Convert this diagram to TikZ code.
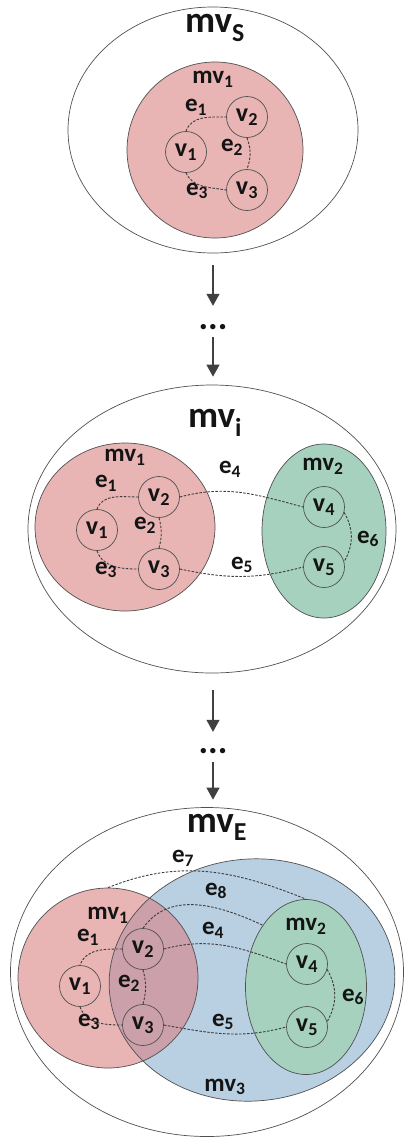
\documentclass[tikz,border=0pt]{standalone}
\usepackage{fontspec}
\setmainfont{Carlito}
\usetikzlibrary{shapes.geometric,arrows.meta}
\definecolor{pinkC}{RGB}{232,180,180}
\definecolor{greenC}{RGB}{165,209,190}
\definecolor{blueC}{RGB}{185,207,226}
\definecolor{overC}{RGB}{203,160,170}
\definecolor{lineC}{RGB}{80,80,80}
\definecolor{edgeC}{RGB}{60,60,60}
\definecolor{txtC}{RGB}{20,20,20}
\newcommand\bigfs{\fontsize{37}{40}\selectfont}
\newcommand\smfs{\fontsize{25}{27}\selectfont}
\newcommand\vfs{\fontsize{26}{28}\selectfont}
\begin{document}
\begin{tikzpicture}[x=1pt,y=-1pt,
  every node/.style={font=\bfseries, text=txtC},
  outerE/.style={ellipse, draw=lineC, line width=0.7pt, inner sep=0},
  region/.style={ellipse, draw=lineC, line width=0.7pt, inner sep=0},
  vert/.style={circle, draw=lineC, line width=0.7pt, minimum size=41pt, inner sep=0, font=\bfseries\vfs},
  lab/.style={inner sep=0, font=\bfseries\smfs},
  biglab/.style={inner sep=0, font=\bfseries\bigfs},
  dedge/.style={draw=edgeC, line width=0.9pt, dash pattern=on 2.5pt off 1.5pt},
  flow/.style={draw=black!75, line width=1.2pt, -{Triangle[length=12pt,width=13pt]}},
  dotsnode/.style={minimum height=20pt, inner sep=0, font=\bfseries\fontsize{36}{38}\selectfont}
]
\useasboundingbox (0,0) rectangle (405,1138);

% ---------- top: mv_S ----------
\node[outerE, minimum width=290pt, minimum height=246pt] (a-out) at (213,130) {};
\node[region, fill=pinkC, minimum size=176pt] (a-mv1) at (215,150) {};
\node[biglab] (a-lab) at (215,28) {mv\textsubscript{S}};
\node[lab] (a-mv1lab) at (213,79) {mv\textsubscript{1}};
\node[vert] (a-v1) at (186,152) {v\textsubscript{1}};
\node[vert] (a-v2) at (247,117) {v\textsubscript{2}};
\node[vert] (a-v3) at (247,190) {v\textsubscript{3}};
\draw[dedge] (a-v1.north) to[out=70,in=180] (a-v2.west);
\draw[dedge] (a-v2.south) to[out=-70,in=70] (a-v3.north);
\draw[dedge] (a-v1.south) to[out=-65,in=170] (a-v3.west);
\node[lab] (a-e1) at (196,107) {e\textsubscript{1}};
\node[lab] (a-e2) at (232,147) {e\textsubscript{2}};
\node[lab] (a-e3) at (197,191) {e\textsubscript{3}};

% ---------- middle: mv_i ----------
\node[outerE, minimum width=368pt, minimum height=288pt] (b-out) at (212,529) {};
\node[region, fill=pinkC, minimum width=180pt, minimum height=168pt] (b-mv1) at (125,527) {};
\node[region, fill=greenC, minimum width=124pt, minimum height=174pt] (b-mv2) at (324,531) {};
\node[biglab] (b-lab) at (215,423) {mv\textsubscript{i}};
\node[lab] (b-mv1lab) at (125,457) {mv\textsubscript{1}};
\node[lab] (b-mv2lab) at (323,466) {mv\textsubscript{2}};
\node[vert] (b-v1) at (97,530) {v\textsubscript{1}};
\node[vert] (b-v2) at (159,497) {v\textsubscript{2}};
\node[vert] (b-v3) at (159,569) {v\textsubscript{3}};
\node[vert] (b-v4) at (324,507) {v\textsubscript{4}};
\node[vert] (b-v5) at (324,567) {v\textsubscript{5}};
\draw[dedge] (b-v1.north) to[out=70,in=180] (b-v2.west);
\draw[dedge] (b-v2.south) to[out=-75,in=75] (b-v3.north);
\draw[dedge] (b-v1.south) to[out=-70,in=180] (b-v3.west);
\draw[dedge] (b-v2.east) to[out=15,in=165] (b-v4.west);
\draw[dedge] (b-v3.east) to[out=-12,in=-165] (b-v5.west);
\draw[dedge] (b-v4.345) to[out=-60,in=60] (b-v5.15);
\node[lab] (b-e1) at (106,483) {e\textsubscript{1}};
\node[lab] (b-e2) at (145,525) {e\textsubscript{2}};
\node[lab] (b-e3) at (106,570) {e\textsubscript{3}};
\node[lab] (b-e4) at (230,469) {e\textsubscript{4}};
\node[lab] (b-e5) at (242,565) {e\textsubscript{5}};
\node[lab] (b-e6) at (368,539) {e\textsubscript{6}};

% ---------- arrows 1 ----------
\node[dotsnode] (d1) at (213,327) {...};
\draw[flow, shorten <=12pt, shorten >=11pt] (d1.north |- a-out.south) -- (d1.north);
\draw[flow, shorten >=8pt] (d1.south) -- (d1.south |- b-out.north);

% ---------- arrows 2 ----------
\node[dotsnode] (d2) at (213,751) {...};
\draw[flow, shorten <=17pt, shorten >=9pt] (d2.north |- b-out.south) -- (d2.north);

% ---------- bottom: mv_E ----------
\node[outerE, minimum width=393pt, minimum height=329pt] (c-out) at (207,972) {};
\draw[flow, shorten <=1pt, shorten >=7.5pt] (d2.south) -- (d2.south |- c-out.north);
\node[region, draw=none, fill=blueC, rotate=5, minimum width=286pt, minimum height=242pt] (c-mv3) at (252,980) {};
\node[region, draw=none, fill=pinkC, minimum size=180pt] (c-mv1) at (108,978) {};
\begin{scope}
  \clip[rotate around={5:(252,980)}] (252,980) ellipse [x radius=143, y radius=121];
  \fill[overC] (108,978) circle [radius=90];
\end{scope}
\draw[lineC, line width=0.7pt, rotate around={5:(252,980)}] (252,980) ellipse [x radius=143, y radius=121];
\draw[lineC, line width=0.7pt] (108,978) circle [radius=90];
\node[region, fill=greenC, minimum width=121pt, minimum height=175pt] (c-mv2) at (306,987) {};
\node[biglab] (c-lab) at (217,827) {mv\textsubscript{E}};
\node[lab] (c-mv1lab) at (108,915) {mv\textsubscript{1}};
\node[lab] (c-mv2lab) at (306,926) {mv\textsubscript{2}};
\node[lab] (c-mv3lab) at (225,1087) {mv\textsubscript{3}};
\node[vert] (c-v1) at (80,986) {v\textsubscript{1}};
\node[vert] (c-v2) at (143,949) {v\textsubscript{2}};
\node[vert] (c-v3) at (143,1025) {v\textsubscript{3}};
\node[vert] (c-v4) at (307,964) {v\textsubscript{4}};
\node[vert] (c-v5) at (307,1027) {v\textsubscript{5}};
\draw[dedge] (c-mv1.north) to[out=22,in=158] (c-mv2.north);
\draw[dedge] (c-v2.north) to[out=55,in=155] (c-mv2.125);
\draw[dedge] (c-v2.west) to[out=180,in=70] (c-v1.north);
\draw[dedge] (c-v2.south) to[out=-75,in=75] (c-v3.north);
\draw[dedge] (c-v1.south) to[out=-70,in=180] (c-v3.west);
\draw[dedge] (c-v2.east) to[out=15,in=160] (c-v4.west);
\draw[dedge] (c-v3.east) to[out=-10,in=-165] (c-v5.west);
\draw[dedge] (c-v4.345) to[out=-60,in=60] (c-v5.15);
\node[lab] (c-e1) at (88,937) {e\textsubscript{1}};
\node[lab] (c-e2) at (129,983) {e\textsubscript{2}};
\node[lab] (c-e3) at (89,1022) {e\textsubscript{3}};
\node[lab] (c-e4) at (213,930) {e\textsubscript{4}};
\node[lab] (c-e5) at (223,1022) {e\textsubscript{5}};
\node[lab] (c-e6) at (353,997) {e\textsubscript{6}};
\node[lab] (c-e7) at (183,858) {e\textsubscript{7}};
\node[lab] (c-e8) at (216,891) {e\textsubscript{8}};
\end{tikzpicture}
\end{document}
